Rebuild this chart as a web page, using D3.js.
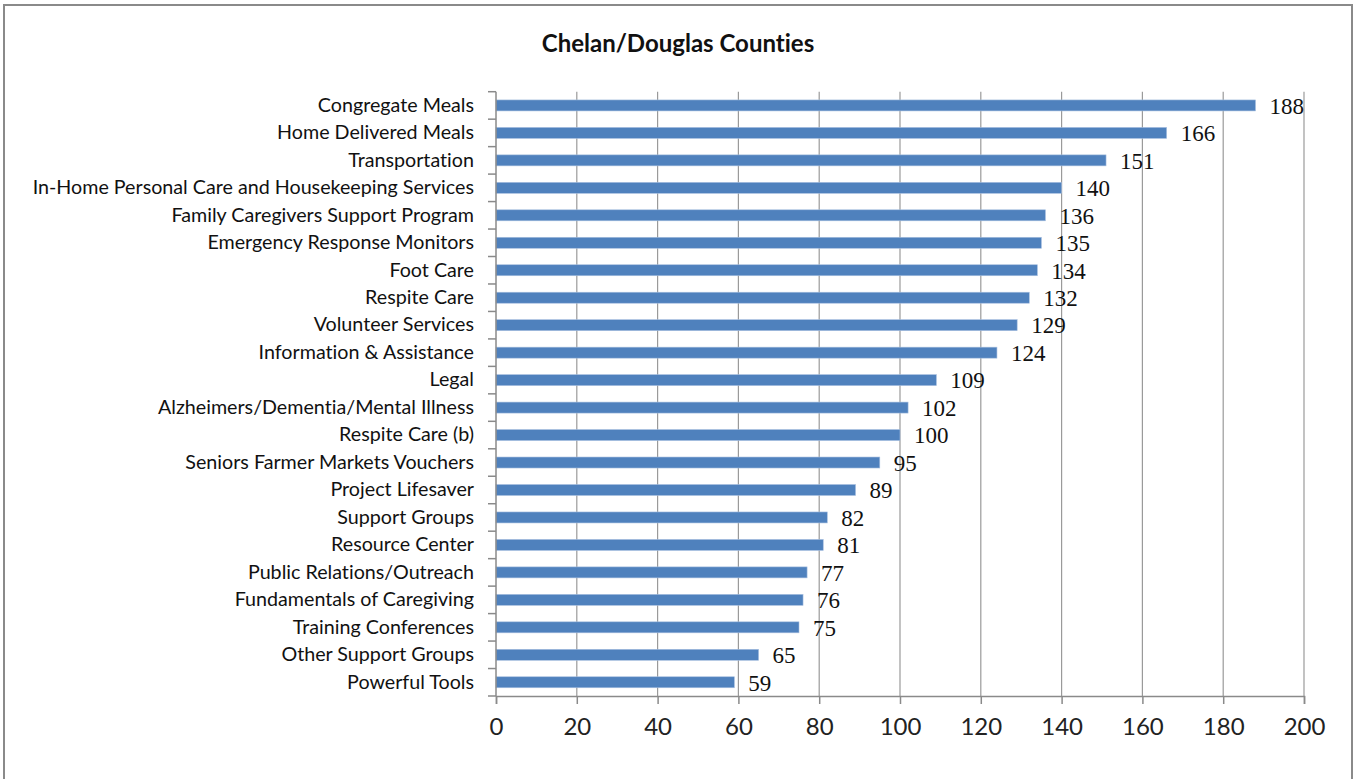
<!DOCTYPE html>
<html>
<head>
<meta charset="utf-8">
<script src="https://cdn.jsdelivr.net/npm/d3@7"></script>
<style>
  html, body { margin: 0; padding: 0; background: #fff; }
  svg { display: block; }
  svg text { font-variant-ligatures: none; font-feature-settings: "liga" 0; }
</style>
</head>
<body>
<svg id="chart" width="1354" height="779"></svg>
<script>
// Services and the number of responses for each
const categories = [
  "Congregate Meals",
  "Home Delivered Meals",
  "Transportation",
  "In-Home Personal Care and Housekeeping Services",
  "Family Caregivers Support Program",
  "Emergency Response Monitors",
  "Foot Care",
  "Respite Care",
  "Volunteer Services",
  "Information & Assistance",
  "Legal",
  "Alzheimers/Dementia/Mental Illness",
  "Respite Care (b)",
  "Seniors Farmer Markets Vouchers",
  "Project Lifesaver",
  "Support Groups",
  "Resource Center",
  "Public Relations/Outreach",
  "Fundamentals of Caregiving",
  "Training Conferences",
  "Other Support Groups",
  "Powerful Tools"
];
const values = [188, 166, 151, 140, 136, 135, 134, 132, 129, 124, 109, 102, 100, 95, 89, 82, 81, 77, 76, 75, 65, 59];
const xTicks = [0, 20, 40, 60, 80, 100, 120, 140, 160, 180, 200];
const title = "Chelan/Douglas Counties";

const svg = d3.select("#chart");
const W = 1354, H = 779;
const plot = { left: 496, right: 1304, top: 91.7, bottom: 696 };
const sans = "Lato, 'Open Sans', sans-serif";
const serif = "'Liberation Serif', 'DejaVu Serif', serif";

// chart frame
svg.append("rect")
  .attr("x", 4).attr("y", 5)
  .attr("width", W - 6).attr("height", H + 20)
  .attr("fill", "#fff")
  .attr("stroke", "#8a8a8a").attr("stroke-width", 2);

// title
svg.append("text")
  .attr("x", 678).attr("y", 52)
  .attr("text-anchor", "middle")
  .attr("font-family", sans)
  .attr("font-weight", "bold")
  .attr("font-size", 24)
  .attr("fill", "#111")
  .text(title);

const x = d3.scaleLinear().domain([0, 200]).range([plot.left, plot.right]);
const y = d3.scaleBand().domain(categories)
  .range([plot.top, plot.bottom])
  .paddingInner(0.6).paddingOuter(0.3);

// vertical gridlines
svg.append("g").selectAll("line")
  .data(xTicks.slice(1))
  .join("line")
  .attr("x1", d => x(d)).attr("x2", d => x(d))
  .attr("y1", plot.top).attr("y2", plot.bottom)
  .attr("stroke", "#9a9a9a").attr("stroke-width", 1.2);

// bars
svg.append("g").selectAll("rect")
  .data(values)
  .join("rect")
  .attr("x", x(0))
  .attr("y", (d, i) => y(categories[i]))
  .attr("width", d => x(d) - x(0))
  .attr("height", y.bandwidth())
  .attr("fill", "#4f81bd")
  .attr("stroke", "#a7bfdf").attr("stroke-width", 0.6);

// value labels
svg.append("g").selectAll("text")
  .data(values)
  .join("text")
  .attr("x", d => x(d) + 14)
  .attr("y", (d, i) => y(categories[i]) + y.bandwidth() / 2)
  .attr("dy", "0.36em")
  .attr("font-family", serif)
  .attr("font-size", 23)
  .attr("fill", "#111")
  .text(d => d);

// x axis
const xAxis = svg.append("g")
  .attr("transform", `translate(0,${plot.bottom})`)
  .call(d3.axisBottom(x).tickValues(xTicks).tickSize(8).tickPadding(14).tickFormat(d3.format("d")));
xAxis.select(".domain").attr("stroke", "#8a8a8a").attr("stroke-width", 1.5);
xAxis.selectAll(".tick line").attr("stroke", "#8a8a8a").attr("stroke-width", 1.5);
xAxis.selectAll(".tick text")
  .attr("font-family", sans)
  .attr("font-size", 24)
  .attr("fill", "#222");

// y axis: category labels
const yAxis = svg.append("g")
  .attr("transform", `translate(${plot.left},0)`)
  .call(d3.axisLeft(y).tickSize(0).tickPadding(22));
yAxis.select(".domain").remove();
yAxis.selectAll(".tick text")
  .attr("font-family", sans)
  .attr("font-size", 19.7)
  .attr("fill", "#111");

// y axis line and boundary ticks between categories
const yLine = svg.append("g");
yLine.append("line")
  .attr("x1", plot.left).attr("x2", plot.left)
  .attr("y1", plot.top).attr("y2", plot.bottom)
  .attr("stroke", "#8a8a8a").attr("stroke-width", 1.5);
yLine.selectAll("line.b")
  .data(d3.range(categories.length + 1))
  .join("line")
  .attr("class", "b")
  .attr("x1", plot.left - 8).attr("x2", plot.left)
  .attr("y1", i => y.range()[0] + i * y.step())
  .attr("y2", i => y.range()[0] + i * y.step())
  .attr("stroke", "#8a8a8a").attr("stroke-width", 1.5);
</script>
</body>
</html>
